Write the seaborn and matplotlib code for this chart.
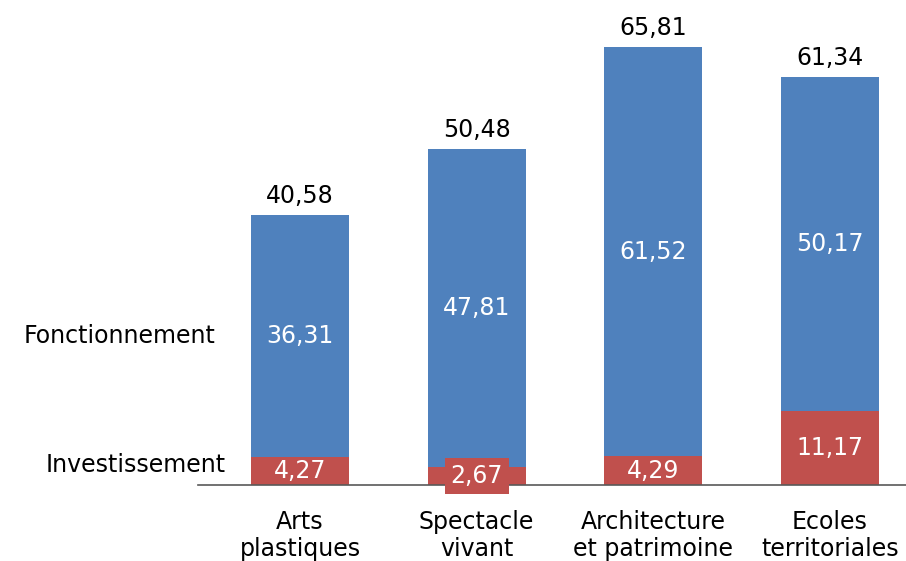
import numpy as np
import pandas as pd
import matplotlib
matplotlib.use("Agg")
import matplotlib.pyplot as plt
import seaborn as sns

# values
categories = ["Arts\nplastiques", "Spectacle\nvivant", "Architecture\net patrimoine", "Ecoles\nterritoriales"]
investissement = [4.27, 2.67, 4.29, 11.17]
fonctionnement = [36.31, 47.81, 61.52, 50.17]
totals = [40.58, 50.48, 65.81, 61.34]

blue = "#4F81BD"
red = "#C0504D"

sns.set_theme(style="white")
plt.rcParams["font.family"] = ["DejaVu Sans"]

df = pd.DataFrame({"cat": categories,
                   "inv": investissement,
                   "fonc": fonctionnement,
                   "tot": totals})

def fr(v):
    return ("%.2f" % v).replace(".", ",")

fs = 17

fig = plt.figure(figsize=(9.06, 5.61), dpi=100)
ax = fig.add_axes([198 / 906, 76 / 561, 708 / 906, 485 / 561])

# stacked: full bar in blue, investissement on top of it in red
sns.barplot(data=df, x="cat", y="tot", color=blue, width=0.555, ax=ax,
            saturation=1, linewidth=0)
sns.barplot(data=df, x="cat", y="inv", color=red, width=0.555, ax=ax,
            saturation=1, linewidth=0)

ax.set_xlim(-0.577, 3.43)
ax.set_ylim(0, 72.87)

for i in range(len(categories)):
    inv = df["inv"][i]
    fonc = df["fonc"][i]
    tot = df["tot"][i]
    # label box only shows when the segment is too thin for the text
    box = dict(boxstyle="square,pad=0.25", fc=red, ec="none") if inv < 3.5 else None
    ax.text(i, inv / 2, fr(inv), ha="center", va="center", color="white", fontsize=fs,
            bbox=box)
    ax.text(i, inv + fonc / 2, fr(fonc), ha="center", va="center", color="white", fontsize=fs)
    ax.text(i, tot + 1.0, fr(tot), ha="center", va="bottom", color="black", fontsize=fs)

# series names on the left
ax.text(-0.42, investissement[0] / 2 + 0.8, "Investissement", ha="right", va="center",
        fontsize=fs, color="black", clip_on=False)
ax.text(-0.48, investissement[0] + fonctionnement[0] / 2, "Fonctionnement", ha="right",
        va="center", fontsize=fs, color="black", clip_on=False)

ax.set_xlabel("")
ax.set_ylabel("")
ax.set_yticks([])
for s in ["top", "right", "left"]:
    ax.spines[s].set_visible(False)
ax.spines["bottom"].set_color("#595959")
ax.spines["bottom"].set_linewidth(1.2)
ax.tick_params(axis="x", length=0, pad=18, labelsize=fs, colors="black")
for t in ax.get_xticklabels():
    t.set_linespacing(1.15)

fig.savefig("out.png", dpi=100)
